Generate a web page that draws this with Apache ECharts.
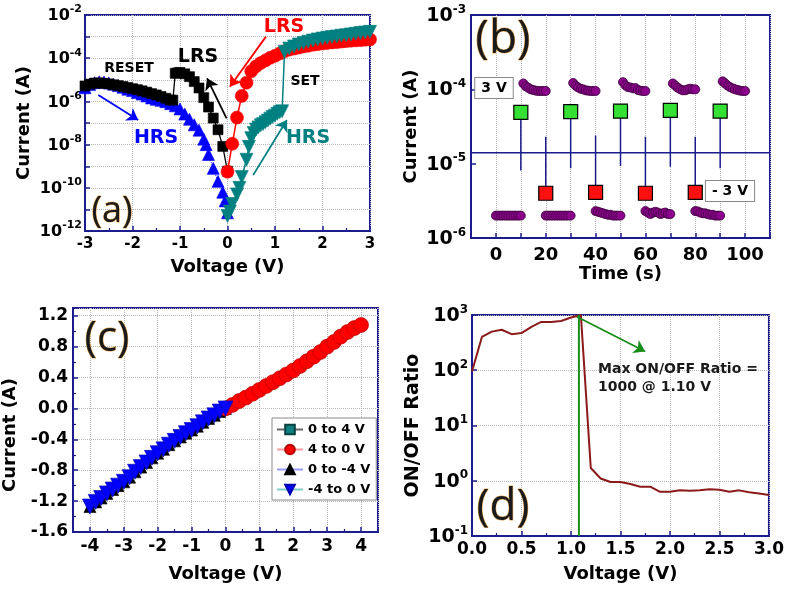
<!DOCTYPE html>
<html><head><meta charset="utf-8">
<script src="https://cdn.jsdelivr.net/npm/echarts@6/dist/echarts.min.js"></script>
<style>html,body{margin:0;padding:0;background:#fff}#chart{width:787px;height:591px}</style>
</head><body><div id="chart"></div>
<script>
// ================= DATA =================
// (a) I-V switching, log current
const aResetV = [0, -0.1, -0.2, -0.3, -0.4, -0.5, -0.6, -0.7, -0.8, -0.9, -1.0, -1.05, -1.1, -1.15, -1.2, -1.3, -1.4, -1.5, -1.6, -1.7, -1.8, -1.9, -2.0, -2.1, -2.2, -2.3, -2.4, -2.5, -2.6, -2.7, -2.8, -2.9, -3.0];
const aResetI = [5.9e-10, 8.3e-9, 4.9e-8, 1.7e-7, 5.5e-7, 1.5e-6, 4.2e-6, 8.3e-6, 1.4e-5, 1.9e-5, 2.2e-5, 2.1e-5, 2.0e-5, 1.15e-6, 1.17e-6, 1.4e-6, 1.7e-6, 2.0e-6, 2.3e-6, 2.7e-6, 3.1e-6, 3.5e-6, 3.9e-6, 4.4e-6, 4.9e-6, 5.4e-6, 5.9e-6, 6.5e-6, 6.9e-6, 7.2e-6, 7.1e-6, 6.3e-6, 5.2e-6];
const aHrsNegV = [-3.0, -2.9, -2.8, -2.7, -2.6, -2.5, -2.4, -2.3, -2.2, -2.1, -2.0, -1.9, -1.8, -1.7, -1.6, -1.5, -1.4, -1.3, -1.2, -1.1, -1.0, -0.9, -0.8, -0.7, -0.6, -0.5, -0.45, -0.4, -0.3, -0.2, -0.1, -0.05, 0.0];
const aHrsNegI = [4.3e-6, 6.0e-6, 7.4e-6, 8.1e-6, 7.9e-6, 7.2e-6, 6.3e-6, 5.4e-6, 4.5e-6, 3.7e-6, 3.2e-6, 2.6e-6, 2.2e-6, 1.8e-6, 1.45e-6, 1.26e-6, 1.12e-6, 9.8e-7, 7.9e-7, 6.3e-7, 4.5e-7, 2.6e-7, 1.5e-7, 8.3e-8, 4.7e-8, 1.8e-8, 1.0e-8, 3.5e-9, 8e-10, 2e-10, 6.3e-11, 2.5e-11, 7e-12];
const aLrsPosV = [0, 0.1, 0.2, 0.3, 0.4, 0.5, 0.6, 0.7, 0.8, 0.9, 1.0, 1.1, 1.2, 1.3, 1.4, 1.5, 1.6, 1.7, 1.8, 1.9, 2.0, 2.1, 2.2, 2.3, 2.4, 2.5, 2.6, 2.7, 2.8, 2.9, 3.0];
const aLrsPosI = [5.6e-10, 1.1e-8, 1.8e-7, 1.8e-6, 7.4e-6, 2.5e-5, 4.2e-5, 6.0e-5, 7.9e-5, 1.05e-4, 1.3e-4, 1.65e-4, 2.1e-4, 2.5e-4, 2.8e-4, 3.1e-4, 3.5e-4, 3.8e-4, 4.2e-4, 4.5e-4, 4.8e-4, 5.1e-4, 5.4e-4, 5.6e-4, 5.9e-4, 6.2e-4, 6.5e-4, 6.7e-4, 6.9e-4, 7.2e-4, 7.4e-4];
const aSetV = [0, 0.05, 0.1, 0.2, 0.25, 0.3, 0.4, 0.45, 0.5, 0.55, 0.6, 0.65, 0.7, 0.75, 0.8, 0.85, 0.9, 0.95, 1.0, 1.05, 1.1, 1.15, 1.2, 1.3, 1.4, 1.5, 1.6, 1.7, 1.8, 1.9, 2.0, 2.1, 2.2, 2.3, 2.4, 2.5, 2.6, 2.7, 2.8, 2.9, 3.0];
const aSetI = [5e-12, 8e-12, 1.8e-11, 5e-11, 1e-10, 3.2e-10, 2e-9, 7.9e-9, 2e-8, 3.5e-8, 5e-8, 6.3e-8, 7.9e-8, 9e-8, 1.1e-7, 1.3e-7, 1.6e-7, 1.9e-7, 2.2e-7, 2.7e-7, 3.2e-7, 3.5e-7, 2.0e-4, 2.8e-4, 3.5e-4, 4.3e-4, 5.0e-4, 5.8e-4, 6.6e-4, 7.4e-4, 8.1e-4, 8.9e-4, 9.5e-4, 1.02e-3, 1.1e-3, 1.17e-3, 1.26e-3, 1.35e-3, 1.45e-3, 1.55e-3, 1.66e-3];

// (b) endurance / pulse
const bSegStart = [0, 10, 20, 30, 40, 50, 60, 70, 80, 90];
const bLowOffsets = [0, 1, 2, 3, 4, 5, 6, 7, 8, 9, 10];
const bHighOffsets = [1, 2, 3, 4, 5, 6, 7, 8, 9, 10];
const bLow1 = [2.0e-6, 2.0e-6, 2.0e-6, 2.0e-6, 2.0e-6, 2.0e-6, 2.0e-6, 2.0e-6, 2.0e-6, 2.0e-6, 2.0e-6];
const bHigh1 = [1.2e-4, 1.1e-4, 1.05e-4, 1.0e-4, 9.8e-5, 9.6e-5, 9.5e-5, 9.5e-5, 9.5e-5, 9.5e-5];
const bLow2 = [2.0e-6, 2.0e-6, 2.0e-6, 2.0e-6, 2.0e-6, 2.0e-6, 2.0e-6, 2.0e-6, 2.0e-6, 2.0e-6, 2.0e-6];
const bHigh2 = [1.22e-4, 1.12e-4, 1.06e-4, 1.02e-4, 1.0e-4, 9.7e-5, 9.6e-5, 9.5e-5, 9.5e-5, 9.5e-5];
const bLow3 = [2.3e-6, 2.25e-6, 2.2e-6, 2.15e-6, 2.1e-6, 2.05e-6, 2.05e-6, 2.0e-6, 2.0e-6, 2.0e-6, 2.0e-6];
const bHigh3 = [1.25e-4, 1.13e-4, 1.07e-4, 1.06e-4, 1.03e-4, 1.04e-4, 9.8e-5, 9.6e-5, 9.5e-5, 9.5e-5];
const bLow4 = [2.3e-6, 2.2e-6, 2.1e-6, 2.2e-6, 2.25e-6, 2.2e-6, 2.1e-6, 2.15e-6, 2.2e-6, 2.1e-6, 2.1e-6];
const bHigh4 = [1.2e-4, 1.12e-4, 1.05e-4, 1.0e-4, 9.7e-5, 9.7e-5, 1.0e-4, 1.02e-4, 1.0e-4, 1.0e-4];
const bLow5 = [2.3e-6, 2.28e-6, 2.2e-6, 2.15e-6, 2.15e-6, 2.1e-6, 2.05e-6, 2.05e-6, 2.0e-6, 2.0e-6, 2.0e-6];
const bHigh5 = [1.28e-4, 1.2e-4, 1.12e-4, 1.07e-4, 1.03e-4, 1.0e-4, 9.8e-5, 9.6e-5, 9.5e-5, 9.5e-5];
const bSetT = [10, 30, 50, 70, 90];
const bSetI = [4.9e-5, 5.0e-5, 5.1e-5, 5.2e-5, 5.1e-5];
const bSetStemEnd = [8.1e-6, 8.7e-6, 9.3e-6, 9.1e-6, 8.7e-6];
const bResetT = [20, 40, 60, 80];
const bResetI = [4.0e-6, 4.1e-6, 4.0e-6, 4.1e-6];
const bResetStemEnd = [2.3e-5, 2.4e-5, 2.3e-5, 2.3e-5];
const bReadLevel = 1.4e-5;
const bReadSpan = [-10, 110];

// (c) linear I-V
const cPosV = [0, 0.2, 0.4, 0.6, 0.8, 1.0, 1.2, 1.4, 1.6, 1.8, 2.0, 2.2, 2.4, 2.6, 2.8, 3.0, 3.2, 3.4, 3.6, 3.8, 4.0];
const cPosI = [0.0, 0.045, 0.095, 0.14, 0.19, 0.24, 0.29, 0.34, 0.39, 0.44, 0.49, 0.55, 0.61, 0.67, 0.73, 0.80, 0.86, 0.93, 0.99, 1.04, 1.08];
const cNegV = [-4.0, -3.83, -3.67, -3.5, -3.33, -3.17, -3.0, -2.83, -2.67, -2.5, -2.33, -2.17, -2.0, -1.83, -1.67, -1.5, -1.33, -1.17, -1.0, -0.83, -0.67, -0.5, -0.33, -0.17, 0.0];
const cNegI = [-1.27, -1.21, -1.16, -1.10, -1.05, -1.00, -0.95, -0.89, -0.82, -0.76, -0.70, -0.64, -0.58, -0.53, -0.47, -0.42, -0.37, -0.32, -0.28, -0.23, -0.18, -0.13, -0.09, -0.04, 0.0];
const cLegend = ['0 to 4 V', '4 to 0 V', '0 to -4 V', '-4 to 0 V'];

// (d) ON/OFF ratio
const dV = [0.0, 0.1, 0.2, 0.3, 0.4, 0.5, 0.6, 0.7, 0.8, 0.9, 1.0, 1.1, 1.2, 1.3, 1.4, 1.5, 1.6, 1.7, 1.8, 1.9, 2.0, 2.1, 2.2, 2.3, 2.4, 2.5, 2.6, 2.7, 2.8, 2.9, 3.0];
const dRatio = [95, 400, 500, 540, 450, 470, 610, 750, 750, 780, 900, 1000, 1.7, 1.1, 0.95, 0.95, 0.87, 0.78, 0.78, 0.63, 0.63, 0.67, 0.66, 0.67, 0.70, 0.69, 0.63, 0.67, 0.62, 0.59, 0.55];
const dMarkV = 1.08;
const dMarkSpan = [0.1, 1000];

// ================= STYLE / HELPERS =================
const F = '"DejaVu Sans", sans-serif';
const NAVY = '#1c1c8c';
const pairs = (xs, ys) => xs.map((x, i) => [x, ys[i]]);

function richFor(bs, es) {
  return {
    b: { fontFamily: F, fontWeight: 'bold', fontSize: bs, lineHeight: bs + 2, verticalAlign: 'bottom', color: '#000' },
    s: { fontFamily: F, fontWeight: 'bold', fontSize: es, lineHeight: es, verticalAlign: 'bottom', padding: [0, 0, Math.round(bs * 0.55), 0], color: '#000' }
  };
}
function logFmt(skipOdd) {
  return function (v) {
    const e = Math.round(Math.log10(v));
    if (skipOdd && Math.abs(e) % 2 === 1) return '';
    return '{b|10}{s|' + e + '}';
  };
}
function axis(o) {
  return {
    gridIndex: o.g, type: o.type || 'value', min: o.min, max: o.max,
    interval: o.interval, minInterval: o.minI, maxInterval: o.maxI, logBase: 10,
    name: o.name, nameLocation: 'middle', nameGap: o.gap,
    nameTextStyle: Object.assign({ fontFamily: F, fontWeight: 'bold', fontSize: o.nfs || 18, color: '#000' }, o.nstyle || {}),
    axisLine: { show: true, onZero: false, lineStyle: { color: NAVY, width: 2 } },
    axisTick: { show: true, inside: true, length: 5, lineStyle: { color: NAVY, width: 1.5 } },
    minorTick: { show: !!o.minor, splitNumber: 2, length: 3, lineStyle: { color: NAVY, width: 1.2 } },
    axisLabel: { fontFamily: F, fontWeight: 'bold', fontSize: o.fs, color: '#000', margin: o.margin, formatter: o.fmt, rich: o.rich },
    splitLine: { show: o.split !== false, lineStyle: { type: 'dotted', color: '#b8b8b8', width: 1 } }
  };
}
function ser(g, name, data, o) {
  return {
    type: 'line', name: name, xAxisIndex: g, yAxisIndex: g, data: data,
    symbol: o.symbol || 'none', symbolSize: o.size || 8, symbolRotate: o.rot || 0,
    showSymbol: !!o.symbol,
    itemStyle: { color: o.color, borderColor: o.border || o.color, borderWidth: o.bw == null ? 0.6 : o.bw },
    lineStyle: o.line || { width: 0, opacity: 0 },
    z: o.z || 2, silent: true, clip: false, markLine: o.markLine
  };
}
function arrow(color, from, to) {
  return {
    silent: true, symbol: ['none', 'arrow'], symbolSize: 11, label: { show: false },
    lineStyle: { color: color, width: 1.8, type: 'solid' },
    data: [[{ coord: from }, { coord: to }]]
  };
}

// ================= SERIES =================
const series = [];
// (a)
series.push(ser(0, 'HRS-', pairs(aHrsNegV, aHrsNegI), { symbol: 'triangle', size: 12, color: '#0000ff', line: { width: 1, type: 'dotted', color: '#0000ff' }, z: 2,
  markLine: arrow('#0000ff', [-2.72, 2e-6], [-1.88, 1.38e-7]) }));
series.push(ser(0, 'RESET', pairs(aResetV, aResetI), { symbol: 'rect', size: 10, color: '#000', line: { width: 1.3, color: '#000' }, z: 3,
  markLine: arrow('#000', [-0.02, 1.66e-7], [-0.43, 1.17e-5]) }));
series.push(ser(0, 'LRS+', pairs(aLrsPosV, aLrsPosI), { symbol: 'circle', size: 13, color: '#ff0000', line: { width: 1.5, color: '#ff0000' }, z: 4,
  markLine: arrow('#ff0000', [0.81, 1e-3], [0.05, 4.8e-6]) }));
series.push(ser(0, 'SET', pairs(aSetV, aSetI), { symbol: 'triangle', rot: 180, size: 13, color: '#008080', line: { width: 1.5, color: '#008080' }, z: 5,
  markLine: arrow('#008080', [0.54, 3.9e-10], [1.25, 1.38e-7]) }));

// (b)
const bLows = [bLow1, bLow2, bLow3, bLow4, bLow5];
const bHighs = [bHigh1, bHigh2, bHigh3, bHigh4, bHigh5];
const bPts = [];
bLows.forEach((seg, k) => seg.forEach((v, i) => bPts.push([bSegStart[2 * k] + bLowOffsets[i], v])));
bHighs.forEach((seg, k) => seg.forEach((v, i) => bPts.push([bSegStart[2 * k + 1] + bHighOffsets[i], v])));
series.push({ type: 'scatter', xAxisIndex: 1, yAxisIndex: 1, data: bPts, symbol: 'circle', symbolSize: 9,
  itemStyle: { color: '#8a008a', borderColor: '#3a003a', borderWidth: 0.8, opacity: 1 }, z: 3, silent: true });
series.push(ser(1, 'read', [[bReadSpan[0], bReadLevel], [bReadSpan[1], bReadLevel]], { line: { width: 1.5, color: NAVY }, z: 2 }));
bSetT.forEach((t, i) => series.push(ser(1, 'stemS' + i, [[t, bSetI[i]], [t, bSetStemEnd[i]]], { line: { width: 1.5, color: NAVY }, z: 2 })));
bResetT.forEach((t, i) => series.push(ser(1, 'stemR' + i, [[t, bResetI[i]], [t, bResetStemEnd[i]]], { line: { width: 1.5, color: NAVY }, z: 2 })));
series.push({ type: 'scatter', xAxisIndex: 1, yAxisIndex: 1, data: pairs(bSetT, bSetI), symbol: 'rect', symbolSize: 14,
  itemStyle: { color: '#33e033', borderColor: '#000', borderWidth: 1.2, opacity: 1 }, z: 6, silent: true });
series.push({ type: 'scatter', xAxisIndex: 1, yAxisIndex: 1, data: pairs(bResetT, bResetI), symbol: 'rect', symbolSize: 14,
  itemStyle: { color: '#ff1010', borderColor: '#000', borderWidth: 1.2, opacity: 1 }, z: 6, silent: true });

// (c)
series.push(ser(2, cLegend[0], pairs(cPosV, cPosI), { symbol: 'rect', size: 10, color: '#0f8080', border: '#084040', line: { width: 1, color: '#666' }, z: 2 }));
series.push(ser(2, cLegend[2], pairs(cNegV, cNegI), { symbol: 'triangle', size: 12, color: '#000', line: { width: 1, color: '#9a9aff' }, z: 2 }));
series.push(ser(2, cLegend[1], pairs(cPosV, cPosI), { symbol: 'circle', size: 15, color: '#ff0000', border: '#b00000', line: { width: 1, color: '#ff9a9a' }, z: 3 }));
series.push(ser(2, cLegend[3], pairs(cNegV, cNegI), { symbol: 'triangle', rot: 180, size: 15, color: '#0000ff', border: '#0000b0', line: { width: 1, color: '#7fcaca' }, z: 3 }));

// (d)
series.push(ser(3, 'ratio', pairs(dV, dRatio), { line: { width: 2, color: '#8b1a1a' }, z: 3,
  markLine: arrow('#1a8c1a', [1.06, 930], [1.75, 218]) }));
series.push(ser(3, 'maxV', [[dMarkV, dMarkSpan[0]], [dMarkV, dMarkSpan[1]]], { line: { width: 2, color: '#1a8c1a' }, z: 4 }));

// ================= ANNOTATIONS =================
function txt(x, y, s, size, color, extra) {
  return Object.assign({ type: 'text', x: x, y: y, z: 100, silent: true,
    style: Object.assign({ text: s, font: 'bold ' + size + 'px ' + F, fill: color, align: 'center', verticalAlign: 'middle' }, extra || {}) });
}
function letter(x, y, s, size) {
  return { type: 'text', x: x, y: y, z: 100, silent: true,
    style: { text: s, font: size + 'px "Open Sans", sans-serif', fill: '#1a1a1a', stroke: 'rgba(230,140,20,0.75)', lineWidth: 1, align: 'center', verticalAlign: 'middle' } };
}
const graphics = [
  txt(284, 27, 'LRS', 19, '#ff0000'),
  txt(198, 57, 'LRS', 19, '#000'),
  txt(129, 68, 'RESET', 14, '#000'),
  txt(156, 138, 'HRS', 19, '#0000ff'),
  txt(305, 81, 'SET', 14, '#000'),
  txt(308, 138, 'HRS', 19, '#008080'),
  txt(494, 88, '3 V', 14, '#000', { backgroundColor: '#fff', borderColor: '#8a8a8a', borderWidth: 1, padding: [3, 6] }),
  txt(730, 191, '- 3 V', 14, '#000', { backgroundColor: '#fff', borderColor: '#8a8a8a', borderWidth: 1, padding: [3, 6] }),
  txt(598, 369, 'Max ON/OFF Ratio =', 14, '#1a1a1a', { align: 'left' }),
  txt(598, 387, '1000 @ 1.10 V', 14, '#1a1a1a', { align: 'left' }),
  letter(112, 212, '(a)', 36),
  letter(503, 40, '(b)', 46),
  letter(107, 339, '(c)', 42),
  letter(503, 507, '(d)', 44)
];

// ================= OPTION =================
const option = {
  animation: false,
  backgroundColor: '#fff',
  grid: [
    { left: 85, top: 15, width: 285, height: 216, show: true, borderColor: NAVY, borderWidth: 2, backgroundColor: 'transparent' },
    { left: 471, top: 15, width: 299, height: 223, show: true, borderColor: NAVY, borderWidth: 2, backgroundColor: 'transparent' },
    { left: 73, top: 308, width: 305, height: 224, show: true, borderColor: NAVY, borderWidth: 2, backgroundColor: 'transparent' },
    { left: 472, top: 315, width: 297, height: 221, show: true, borderColor: NAVY, borderWidth: 2, backgroundColor: 'transparent' }
  ],
  xAxis: [
    axis({ g: 0, min: -3, max: 3, interval: 1, name: 'Voltage (V)', gap: 27, fs: 15, margin: 6, minor: true, fmt: v => String(v) }),
    axis({ g: 1, min: -10, max: 110, minI: 10, maxI: 10, name: 'Time (s)', gap: 26, fs: 18, margin: 8,
      fmt: v => (v >= 0 && v <= 100 && v % 20 === 0) ? String(v) : '' }),
    axis({ g: 2, min: -4.5, max: 4.5, minI: 1, maxI: 1, name: 'Voltage (V)', gap: 33, fs: 17, margin: 6, minor: true,
      fmt: v => (Math.abs(v - Math.round(v)) < 1e-6) ? String(Math.round(v)) : '' }),
    axis({ g: 3, min: 0, max: 3, interval: 0.5, name: 'Voltage (V)', gap: 29, fs: 17, margin: 5, minor: true, fmt: v => v.toFixed(1) })
  ],
  yAxis: [
    axis({ g: 0, type: 'log', min: 1.01e-12, max: 1e-2, name: 'Current (A)', gap: 52, fs: 16, margin: 3, fmt: logFmt(true), rich: richFor(16, 11) }),
    axis({ g: 1, type: 'log', min: 1e-6, max: 1e-3, name: 'Current (A)', gap: 51, fs: 19, margin: 5, split: false, fmt: logFmt(false), rich: richFor(19, 12) }),
    axis({ g: 2, min: -1.6, max: 1.3, minI: 0.4, maxI: 0.4, name: 'Current (A)', gap: 54, fs: 17, margin: 5, minor: true,
      nstyle: { padding: [0, 30, 0, 0] },
      fmt: v => (Math.abs(v - 1.3) < 1e-6) ? '' : (Math.abs(v) < 1e-9 ? '0.0' : v.toFixed(1)) }),
    axis({ g: 3, type: 'log', min: 0.1, max: 1000, name: 'ON/OFF Ratio', nfs: 19, gap: 49, fs: 19, margin: 4, fmt: logFmt(false), rich: richFor(19, 12) })
  ],
  legend: {
    data: cLegend, orient: 'vertical', left: 272, top: 418,
    itemWidth: 26, itemHeight: 12, itemGap: 7, padding: [5, 6, 4, 4],
    borderColor: '#8a8a8a', borderWidth: 1, backgroundColor: '#fff', selectedMode: false,
    textStyle: { fontFamily: F, fontWeight: 'bold', fontSize: 13, color: '#000' }, z: 20
  },
  graphic: graphics,
  series: series
};
const chart = echarts.init(document.getElementById('chart'), null, { renderer: 'canvas' });
chart.setOption(option);
</script>
</body></html>
